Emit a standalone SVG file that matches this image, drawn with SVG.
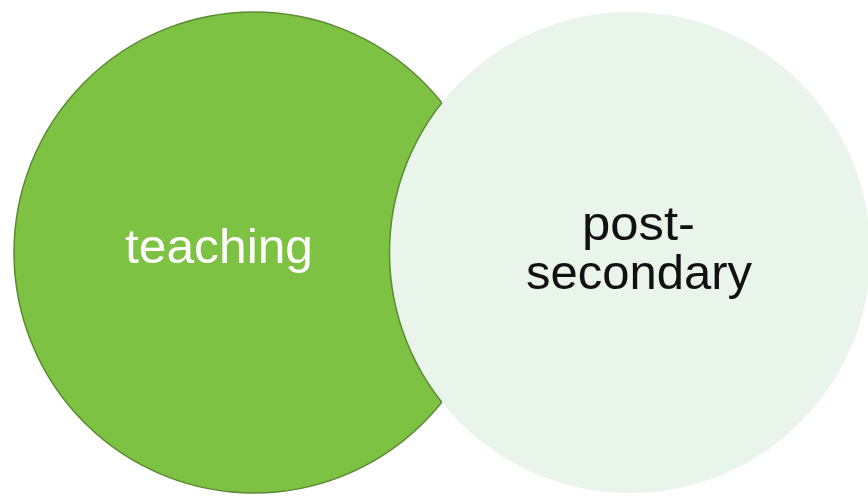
<svg xmlns="http://www.w3.org/2000/svg" width="868" height="497" viewBox="0 0 868 497">
<style>
.lbl{font-family:"Liberation Sans",Arial,sans-serif;font-size:48px;text-anchor:middle}
</style>
<defs>
<clipPath id="greenClip"><ellipse cx="254" cy="252.5" rx="240" ry="240.5"/></clipPath>
</defs>
<rect width="868" height="497" fill="#ffffff"/>
<g id="teaching">
<ellipse cx="254" cy="252.5" rx="240" ry="240.5" fill="#7dc242" stroke="#5b8a33" stroke-width="1.5"/>
<text class="lbl" x="219" y="263" fill="#ffffff" textLength="188" lengthAdjust="spacingAndGlyphs">teaching</text>
</g>
<g id="post-secondary">
<circle cx="630" cy="252.5" r="240.5" fill="#e9f4eb"/>
<circle cx="630" cy="252.5" r="240.5" fill="none" stroke="#5b8a33" stroke-width="1.5" clip-path="url(#greenClip)"/>
<text class="lbl" x="638.5" y="240" fill="#111111" textLength="113" lengthAdjust="spacingAndGlyphs">post-</text>
<text class="lbl" x="639" y="289" fill="#111111" textLength="226" lengthAdjust="spacingAndGlyphs">secondary</text>
</g>
<g id="connectors"></g>
</svg>
